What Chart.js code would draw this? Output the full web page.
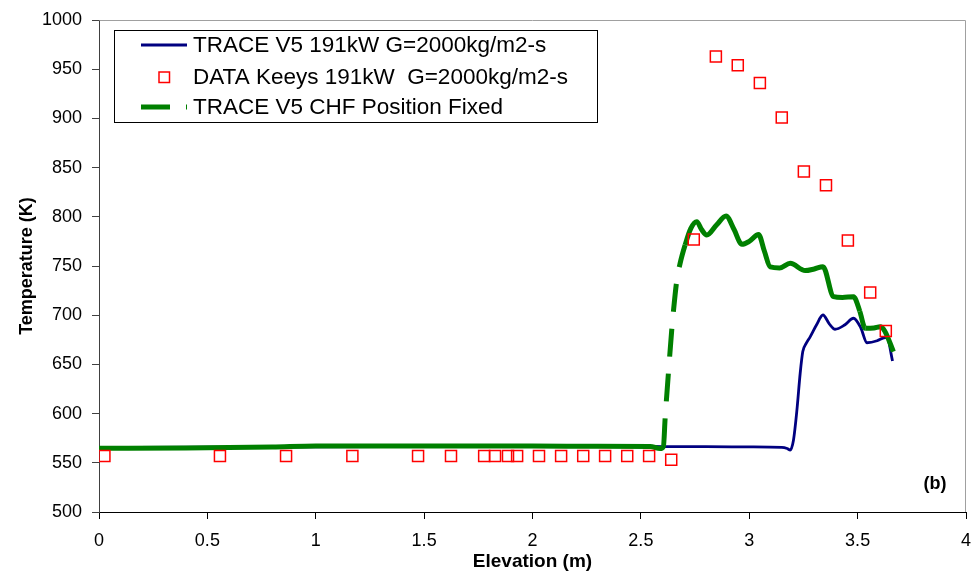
<!DOCTYPE html>
<html>
<head>
<meta charset="utf-8">
<title>Temperature vs Elevation</title>
<script src="https://cdn.jsdelivr.net/npm/chart.js@4.4.1/dist/chart.umd.min.js"></script>
<style>
  body { margin: 0; background: #fff; }
  canvas { display: block; }
</style>
</head>
<body>
<canvas id="chart" width="973" height="574"></canvas>
<script>
// TRACE V5, 191 kW, G = 2000 kg/m2-s
const traceElevation = [0, 0.5, 1.0, 1.5, 2.0, 2.5, 2.6, 2.8, 3.0, 3.15, 3.175, 3.189, 3.204, 3.22, 3.235,
    3.247, 3.262, 3.281, 3.31, 3.34, 3.37, 3.396, 3.44, 3.481, 3.515, 3.543, 3.59, 3.62, 3.635, 3.661];
const traceTemp = [565.5, 565.8, 566.2, 566.4, 566.6, 566.6, 566.5, 566.4, 566.2, 565.7, 564.5, 563, 573, 603.7, 641,
    663, 671, 678, 690, 700.2, 691, 685.7, 690, 696.9, 687, 672, 674, 677, 677.5, 653.5];

// Keeys measurements
const keeysElevation = [0.025, 0.558, 0.863, 1.169, 1.472, 1.624, 1.777, 1.827, 1.887, 1.929, 2.03, 2.132, 2.234,
    2.335, 2.437, 2.538, 2.64, 2.744, 2.846, 2.947, 3.049, 3.15, 3.252, 3.354, 3.455, 3.558, 3.63];
const keeysTemp = [557, 557, 557, 557, 557, 557, 557, 557, 557, 557, 557, 557, 557,
    557, 557, 557, 553, 777, 963, 954, 936, 901, 846, 832, 776, 723, 684];

// TRACE V5 with the CHF position fixed
const chfElevation = [0, 0.4, 0.8, 1.0, 1.5, 2.0, 2.3, 2.543, 2.589, 2.604, 2.612, 2.627, 2.643, 2.65, 2.666,
    2.681, 2.704, 2.73, 2.758, 2.78, 2.804, 2.85, 2.893, 2.93, 2.966, 3.0, 3.043, 3.07, 3.097, 3.14, 3.189,
    3.258, 3.3, 3.34, 3.389, 3.43, 3.481, 3.51, 3.535, 3.575, 3.604, 3.625, 3.665];
const chfTemp = [564.7, 565, 566, 567, 567, 567, 566.8, 566.6, 564.5, 566.6, 595.5, 641, 686.7, 703.5, 735.8,
    752.7, 771.3, 788, 795, 787, 781.5, 792, 800.8, 787, 772, 775, 782, 765, 749, 748, 752.7,
    745.3, 747, 749.3, 718.8, 718, 718.8, 704, 686.7, 687, 688.3, 684, 663];

const seriesLabels = [
    'TRACE V5 191kW G=2000kg/m2-s',
    'DATA Keeys 191kW  G=2000kg/m2-s',
    'TRACE V5 CHF Position Fixed',
];

const toPoints = (xs, ys) => xs.map((x, i) => ({ x: x, y: ys[i] }));
const plainNumber = v => String(v);

const FONT = "'Liberation Sans', Arial, sans-serif";

// top and right edges of the plot frame
const plotFrame = {
    id: 'plotFrame',
    beforeDatasetsDraw(chart) {
        const { ctx, chartArea: a } = chart;
        ctx.save();
        ctx.strokeStyle = '#a0a0a0';
        ctx.lineWidth = 1;
        ctx.beginPath();
        ctx.moveTo(Math.round(a.left) + 0.5, Math.round(a.top) + 0.5);
        ctx.lineTo(Math.round(a.right) - 0.5, Math.round(a.top) + 0.5);
        ctx.lineTo(Math.round(a.right) - 0.5, Math.round(a.bottom));
        ctx.stroke();
        ctx.restore();
    },
};

// boxed legend inside the plot, plus the panel tag
const boxLegend = {
    id: 'boxLegend',
    afterDraw(chart) {
        const ctx = chart.ctx;
        const ds = chart.data.datasets;
        ctx.save();
        ctx.fillStyle = '#fff';
        ctx.fillRect(114, 30, 483, 92);
        ctx.strokeStyle = '#000';
        ctx.lineWidth = 1;
        ctx.strokeRect(114.5, 30.5, 483, 92);

        const rows = [45, 77, 107];
        const x0 = 141, x1 = 187, textX = 193;

        // solid trace
        ctx.strokeStyle = ds[1].borderColor;
        ctx.lineWidth = ds[1].borderWidth;
        ctx.beginPath();
        ctx.moveTo(x0, rows[0]);
        ctx.lineTo(x1, rows[0]);
        ctx.stroke();

        // data marker
        ctx.strokeStyle = ds[0].borderColor;
        ctx.lineWidth = ds[0].borderWidth;
        ctx.strokeRect(159, rows[1] - 5, 10.5, 10.5);

        // dashed trace
        ctx.strokeStyle = ds[2].borderColor;
        ctx.lineWidth = ds[2].borderWidth;
        ctx.setLineDash([29, 16]);
        ctx.beginPath();
        ctx.moveTo(x0, rows[2]);
        ctx.lineTo(x1, rows[2]);
        ctx.stroke();
        ctx.setLineDash([]);

        ctx.fillStyle = '#000';
        ctx.font = '22.5px ' + FONT;
        ctx.textBaseline = 'middle';
        ctx.textAlign = 'left';
        seriesLabels.forEach((label, i) => ctx.fillText(label, textX, rows[i] + 1));

        ctx.font = 'bold 18px ' + FONT;
        ctx.textAlign = 'center';
        ctx.fillText('(b)', 935, 484);
        ctx.restore();
    },
};

new Chart(document.getElementById('chart'), {
    type: 'scatter',
    data: {
        datasets: [
            {
                label: seriesLabels[1],
                data: toPoints(keeysElevation, keeysTemp),
                showLine: false,
                pointStyle: 'rect',
                pointRadius: 7.8,
                pointBorderWidth: 1.5,
                borderWidth: 1.5,
                borderColor: '#ff0000',
                pointBorderColor: '#ff0000',
                backgroundColor: 'rgba(0,0,0,0)',
                order: 0,
            },
            {
                label: seriesLabels[0],
                data: toPoints(traceElevation, traceTemp),
                showLine: true,
                borderColor: '#000080',
                borderWidth: 2.8,
                pointRadius: 0,
                cubicInterpolationMode: 'monotone',
                order: 2,
            },
            {
                label: seriesLabels[2],
                data: toPoints(chfElevation, chfTemp),
                showLine: true,
                borderColor: '#008000',
                borderWidth: 5,
                pointRadius: 0,
                cubicInterpolationMode: 'monotone',
                segment: {
                    // the near-vertical jump at the CHF point is drawn dashed
                    borderDash: ctx => {
                        const dx = Math.abs(ctx.p1.x - ctx.p0.x);
                        const dy = Math.abs(ctx.p1.y - ctx.p0.y);
                        return dy > 3 * dx ? [28, 17] : undefined;
                    },
                },
                order: 1,
            },
        ],
    },
    options: {
        responsive: false,
        animation: false,
        devicePixelRatio: 1,
        layout: { autoPadding: false, padding: { top: 20, right: 7, bottom: 0, left: 0 } },
        plugins: {
            legend: { display: false },
            tooltip: { enabled: false },
        },
        scales: {
            x: {
                type: 'linear',
                min: 0,
                max: 4,
                afterFit: scale => {
                    scale.height = 62;
                    scale.paddingLeft = 0;
                    scale.paddingRight = 0;
                },
                ticks: {
                    stepSize: 0.5,
                    color: '#000',
                    padding: 11,
                    font: { family: FONT, size: 18 },
                    callback: plainNumber,
                },
                grid: { drawOnChartArea: false, drawTicks: true, tickLength: 7, color: '#000' },
                border: { color: '#000', width: 1 },
                title: {
                    display: true,
                    text: 'Elevation (m)',
                    color: '#000',
                    font: { family: FONT, size: 19, weight: 'bold' },
                    padding: { top: 0, bottom: 1 },
                },
            },
            y: {
                min: 500,
                max: 1000,
                afterFit: scale => {
                    scale.width = 99;
                    scale.paddingTop = 0;
                    scale.paddingBottom = 0;
                },
                ticks: {
                    stepSize: 50,
                    color: '#000',
                    padding: 10,
                    font: { family: FONT, size: 18 },
                    callback: plainNumber,
                },
                grid: { drawOnChartArea: false, drawTicks: true, tickLength: 7, color: '#404040' },
                border: { color: '#404040', width: 1 },
                title: {
                    display: true,
                    text: 'Temperature (K)',
                    color: '#000',
                    font: { family: FONT, size: 18, weight: 'bold' },
                    padding: { top: 16, bottom: 0 },
                },
            },
        },
    },
    plugins: [plotFrame, boxLegend],
});
</script>
</body>
</html>
